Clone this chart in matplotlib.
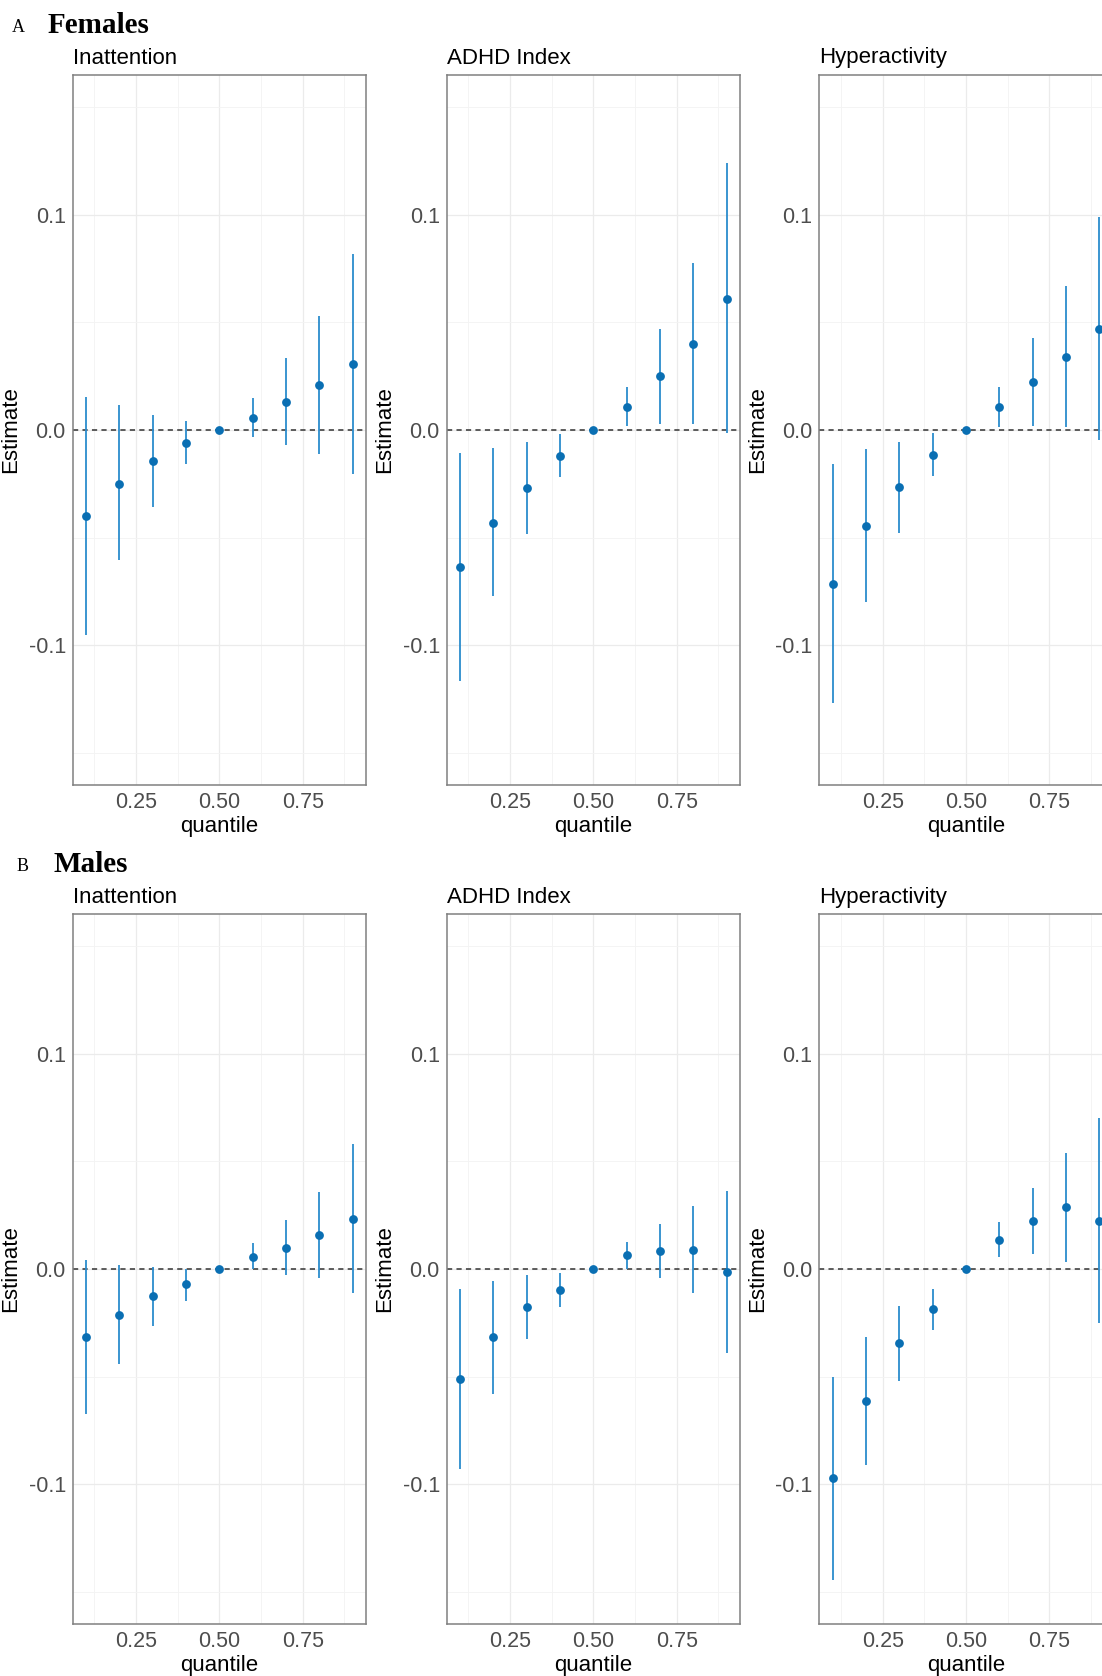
import matplotlib
matplotlib.use("Agg")
import matplotlib.pyplot as plt

plt.rcParams['font.family'] = ['Liberation Sans', 'DejaVu Sans']

quantiles = [0.1, 0.2, 0.3, 0.4, 0.5, 0.6, 0.7, 0.8, 0.9]
outcomes = ["Inattention", "ADHD Index", "Hyperactivity"]
groups = ["Females", "Males"]
group_tags = ["A", "B"]

x_ticks = [0.25, 0.50, 0.75]
x_ticklabels = ["0.25", "0.50", "0.75"]
y_ticks = [-0.1, 0.0, 0.1]
y_ticklabels = ["-0.1", "0.0", "0.1"]

# females
f_inatt_est = [-0.0400, -0.0250, -0.0145, -0.0060, 0.0, 0.0057, 0.0131, 0.0209, 0.0305]
f_inatt_lo = [-0.0954, -0.0604, -0.0360, -0.0159, 0.0, -0.0034, -0.0071, -0.0111, -0.0206]
f_inatt_hi = [0.0152, 0.0116, 0.0070, 0.0043, 0.0, 0.0147, 0.0336, 0.0531, 0.0817]

f_adhd_est = [-0.0637, -0.0430, -0.0270, -0.0119, 0.0, 0.0108, 0.0250, 0.0402, 0.0610]
f_adhd_lo = [-0.1167, -0.0773, -0.0484, -0.0218, 0.0, 0.0019, 0.0028, 0.0028, -0.0015]
f_adhd_hi = [-0.0105, -0.0085, -0.0057, -0.0020, 0.0, 0.0201, 0.0471, 0.0776, 0.1239]

f_hyper_est = [-0.0714, -0.0445, -0.0266, -0.0114, 0.0, 0.0107, 0.0223, 0.0338, 0.0470]
f_hyper_lo = [-0.1270, -0.0800, -0.0479, -0.0213, 0.0, 0.0012, 0.0019, 0.0012, -0.0046]
f_hyper_hi = [-0.0159, -0.0090, -0.0054, -0.0015, 0.0, 0.0201, 0.0428, 0.0668, 0.0992]

# males
m_inatt_est = [-0.0317, -0.0212, -0.0127, -0.0071, 0.0, 0.0057, 0.0099, 0.0159, 0.0233]
m_inatt_lo = [-0.0675, -0.0442, -0.0264, -0.0147, 0.0, 0.0, -0.0028, -0.0043, -0.0111]
m_inatt_hi = [0.0042, 0.0020, 0.0011, 0.0, 0.0, 0.0122, 0.0226, 0.0360, 0.0580]

m_adhd_est = [-0.0510, -0.0318, -0.0175, -0.0097, 0.0, 0.0064, 0.0084, 0.0088, -0.0014]
m_adhd_lo = [-0.0929, -0.0580, -0.0325, -0.0178, 0.0, 0.0, -0.0040, -0.0112, -0.0390]
m_adhd_hi = [-0.0093, -0.0057, -0.0026, -0.0019, 0.0, 0.0127, 0.0208, 0.0291, 0.0364]

m_hyper_est = [-0.0971, -0.0613, -0.0346, -0.0186, 0.0, 0.0137, 0.0224, 0.0288, 0.0224]
m_hyper_lo = [-0.1444, -0.0910, -0.0520, -0.0282, 0.0, 0.0055, 0.0068, 0.0034, -0.0251]
m_hyper_hi = [-0.0500, -0.0316, -0.0172, -0.0092, 0.0, 0.0218, 0.0377, 0.0541, 0.0701]

panels = [
    [(f_inatt_est, f_inatt_lo, f_inatt_hi),
     (f_adhd_est, f_adhd_lo, f_adhd_hi),
     (f_hyper_est, f_hyper_lo, f_hyper_hi)],
    [(m_inatt_est, m_inatt_lo, m_inatt_hi),
     (m_adhd_est, m_adhd_lo, m_adhd_hi),
     (m_hyper_est, m_hyper_lo, m_hyper_hi)],
]

W, H = 1102, 1676
fig = plt.figure(figsize=(W / 100, H / 100), dpi=100)


def add_px_axes(x0, y0, w, h):
    # pixel box (top-left origin) -> figure fraction
    return fig.add_axes([x0 / W, 1 - (y0 + h) / H, w / W, h / H])


def fig_text(x, y, s, **kw):
    fig.text(x / W, 1 - y / H, s, va='baseline', **kw)


col_x = [72.7, 446.7, 819.3]
row_y = [75, 914]
panel_w = 293.3
panel_h = 710

point_col = '#0a6fb3'
bar_col = '#2b8ccd'
grid_col = '#ebebeb'
tick_col = '#4d4d4d'

for r in range(2):
    fig_text(col_x[0] - 60 - (1 if r == 0 else -4), row_y[r] - 43, group_tags[r],
             family='Liberation Serif', fontsize=13)
    fig_text(col_x[0] - 25.5 + (0 if r == 0 else 6.5), row_y[r] - 42, groups[r],
             family='Liberation Serif', fontsize=21, fontweight='bold')
    for c in range(3):
        est, lo, hi = panels[r][c]
        ax = add_px_axes(col_x[c], row_y[r], panel_w, panel_h)

        ax.set_xlim(0.06, 0.94)
        ax.set_ylim(-0.165, 0.165)
        ax.set_xticks(x_ticks)
        ax.set_xticklabels(x_ticklabels)
        ax.set_yticks(y_ticks)
        ax.set_yticklabels(y_ticklabels)
        ax.set_xticks([0.125, 0.375, 0.625, 0.875], minor=True)
        ax.set_yticks([-0.15, -0.05, 0.05, 0.15], minor=True)
        ax.grid(which='major', color=grid_col, lw=0.9)
        ax.grid(which='minor', color='#f3f3f3', lw=0.6)
        ax.set_axisbelow(True)
        ax.tick_params(which='both', length=0, pad=5, labelsize=15.5, labelcolor=tick_col)

        for sp in ax.spines.values():
            sp.set_color('#808080')
            sp.set_linewidth(1.1)

        ax.axhline(0, color='#333333', lw=1.1, ls=(0, (3.4, 2.8)), zorder=2)
        ax.vlines(quantiles, lo, hi, color=bar_col, lw=1.3, zorder=3)
        ax.scatter(quantiles, est, s=40, color=point_col, zorder=4, linewidths=0)

        ax.set_xlabel("quantile", fontsize=16, labelpad=2.5)
        ax.set_ylabel("Estimate", fontsize=16, labelpad=5)
        fig_text(col_x[c], row_y[r] - 11.5, outcomes[c], fontsize=16)

fig.savefig("out.png", dpi=100)
